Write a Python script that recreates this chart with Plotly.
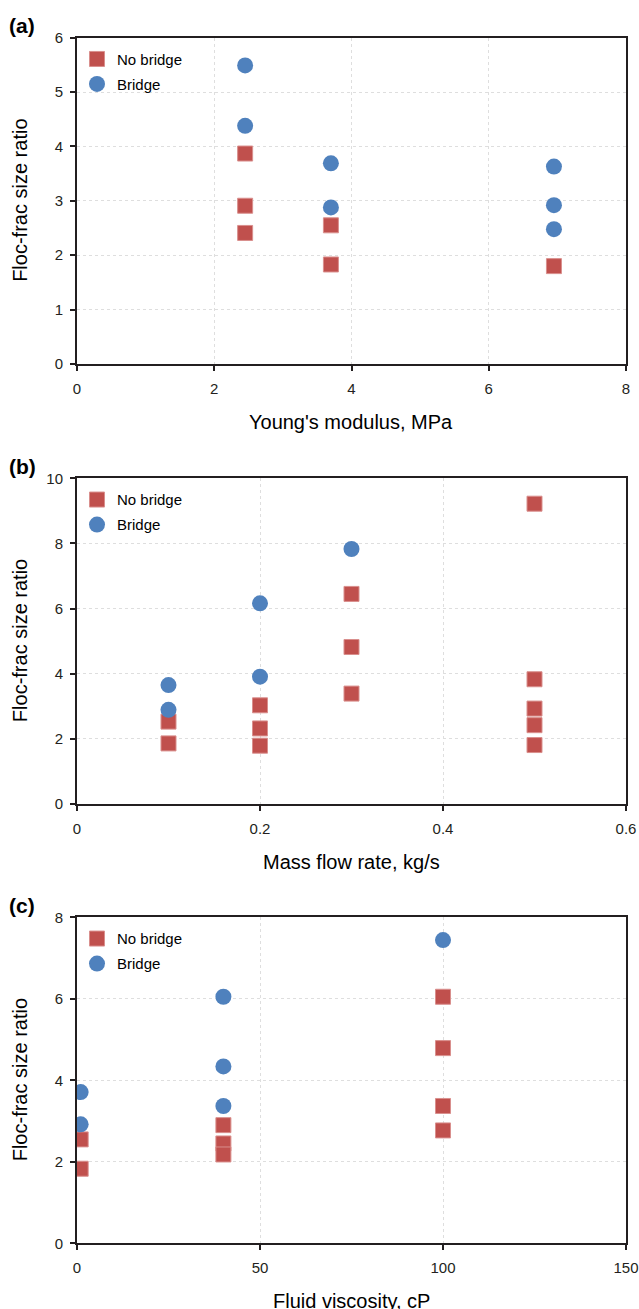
import plotly.graph_objects as go

# ---------------- data ----------------
# (a) Young's modulus
ym_nobridge_x = [2.45, 2.45, 2.45, 3.7, 3.7, 6.95]
ym_nobridge_y = [3.87, 2.91, 2.41, 2.55, 1.83, 1.80]
ym_bridge_x = [2.45, 2.45, 3.7, 3.7, 6.95, 6.95, 6.95]
ym_bridge_y = [5.49, 4.38, 3.69, 2.88, 3.63, 2.92, 2.48]

# (b) Mass flow rate
mf_nobridge_x = [0.1, 0.1, 0.2, 0.2, 0.2, 0.3, 0.3, 0.3, 0.5, 0.5, 0.5, 0.5, 0.5]
mf_nobridge_y = [2.53, 1.86, 3.03, 2.32, 1.79, 6.45, 4.82, 3.39, 9.22, 3.83, 2.93, 2.42, 1.81]
mf_bridge_x = [0.1, 0.1, 0.2, 0.2, 0.3]
mf_bridge_y = [3.65, 2.89, 6.16, 3.91, 7.83]

# (c) Fluid viscosity
fv_nobridge_x = [1, 1, 40, 40, 40, 100, 100, 100, 100]
fv_nobridge_y = [2.55, 1.83, 2.90, 2.45, 2.18, 6.05, 4.79, 3.37, 2.77]
fv_bridge_x = [1, 1, 40, 40, 40, 100]
fv_bridge_y = [3.71, 2.92, 6.05, 4.34, 3.37, 7.44]

panel_labels = ["(a)", "(b)", "(c)"]
x_titles = ["Young's modulus, MPa", "Mass flow rate, kg/s", "Fluid viscosity, cP"]
y_title = "Floc-frac size ratio"
series_names = ["No bridge", "Bridge"]
x_ranges = [[0, 8], [0, 0.6], [0, 150]]
x_dticks = [2, 0.2, 50]
y_ranges = [[0, 6], [0, 10], [0, 8]]
y_dticks = [1, 2, 2]

# ---------------- style ----------------
W, H = 639, 1309
RED = "#C0504D"
BLUE = "#4F81BD"
AXC = "#231F20"
GRID = "#DEDEDE"
FONT = "Arial, Liberation Sans, sans-serif"

left_px, right_px = 77, 626
panel_px = [(37.7, 364.0), (478.3, 804.0), (917.3, 1243.3)]

def py(p):
    return 1 - p / H

def px(p):
    return p / W

fig = go.Figure()

data = [
    (ym_nobridge_x, ym_nobridge_y, ym_bridge_x, ym_bridge_y),
    (mf_nobridge_x, mf_nobridge_y, mf_bridge_x, mf_bridge_y),
    (fv_nobridge_x, fv_nobridge_y, fv_bridge_x, fv_bridge_y),
]

annotations = []
layout = dict(
    width=W, height=H,
    margin=dict(l=0, r=0, t=0, b=0),
    paper_bgcolor="white", plot_bgcolor="white",
    font=dict(family=FONT, color="black"),
    showlegend=True,
)

for i, (nbx, nby, bx, by) in enumerate(data):
    n = i + 1
    xa = "x" if n == 1 else f"x{n}"
    ya = "y" if n == 1 else f"y{n}"
    lg = "legend" if n == 1 else f"legend{n}"
    fig.add_trace(go.Scatter(
        x=nbx, y=nby, mode="markers", name=series_names[0],
        xaxis=xa, yaxis=ya, legend=lg, legendgroup=f"nb{n}",
        marker=dict(symbol="square", size=15, color=RED,
                    line=dict(width=1, color="#D98F8D")),
    ))
    fig.add_trace(go.Scatter(
        x=bx, y=by, mode="markers", name=series_names[1],
        xaxis=xa, yaxis=ya, legend=lg, legendgroup=f"b{n}",
        marker=dict(symbol="circle", size=16, color=BLUE,
                    line=dict(width=0)),
    ))

    top, bot = panel_px[i]
    xkey = "xaxis" if n == 1 else f"xaxis{n}"
    ykey = "yaxis" if n == 1 else f"yaxis{n}"
    layout[xkey] = dict(
        domain=[px(left_px), px(right_px)], anchor=ya,
        range=x_ranges[i], dtick=x_dticks[i], tick0=0,
        showline=True, linecolor=AXC, linewidth=2, mirror=True,
        ticks="outside", ticklen=5, tickcolor=AXC, tickwidth=1.5,
        showgrid=True, gridcolor=GRID, griddash="3px,3px", gridwidth=1,
        zeroline=False, tickfont=dict(size=15, color=AXC, family=FONT),
        ticklabelstandoff=5, automargin=False,
    )
    layout[ykey] = dict(
        domain=[py(bot), py(top)], anchor=xa,
        range=y_ranges[i], dtick=y_dticks[i], tick0=0,
        showline=True, linecolor=AXC, linewidth=2, mirror=True,
        ticks="outside", ticklen=5, tickcolor=AXC, tickwidth=1.5,
        showgrid=True, gridcolor=GRID, griddash="3px,3px", gridwidth=1,
        zeroline=False, tickfont=dict(size=15, color=AXC, family=FONT),
        ticklabelstandoff=4, automargin=False,
    )
    layout[lg] = dict(
        x=px(77), y=py(top + 5), xanchor="left", yanchor="top",
        bgcolor="rgba(0,0,0,0)", borderwidth=0,
        font=dict(size=15, family=FONT, color="black"),
        traceorder="grouped", tracegroupgap=2.5,
        itemclick=False,
    )
    # panel label
    annotations.append(dict(
        text=f"<b>{panel_labels[i]}</b>", xref="paper", yref="paper",
        x=px(7), y=py(top - 12), xanchor="left", yanchor="middle",
        showarrow=False, font=dict(size=21, family=FONT, color="black"),
    ))
    # x title
    annotations.append(dict(
        text=x_titles[i], xref="paper", yref="paper",
        x=px((left_px + right_px) / 2), y=py(bot + 58),
        xanchor="center", yanchor="middle", showarrow=False,
        font=dict(size=20, family=FONT, color="black"),
    ))
    # y title
    annotations.append(dict(
        text=y_title, xref="paper", yref="paper", textangle=-90,
        x=px(20), y=py((top + bot) / 2),
        xanchor="center", yanchor="middle", showarrow=False,
        font=dict(size=20, family=FONT, color="black"),
    ))

layout["annotations"] = annotations
fig.update_layout(**layout)
fig.write_html("out.html")
